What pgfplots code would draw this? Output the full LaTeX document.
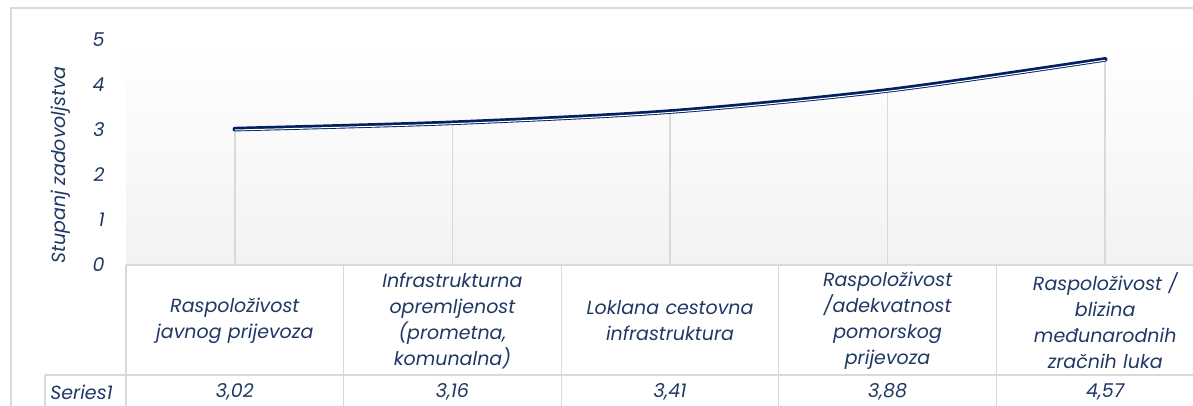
\documentclass[border=0pt]{standalone}
\usepackage{pgfplots}
\pgfplotsset{compat=1.18}
\usepackage{fontspec}
\setmainfont{Poppins}
\definecolor{txtnavy}{RGB}{32,56,100}
\definecolor{linenavy}{RGB}{0,32,96}
\definecolor{gridgray}{RGB}{217,217,217}
\definecolor{bggray}{RGB}{242,242,242}

\begin{document}
\begin{tikzpicture}[font=\fontsize{9.5}{13}\selectfont\itshape, x=1pt, y=1pt]
\useasboundingbox (0,0) rectangle (596.5,203);
\clip (0,0) rectangle (596.5,203);
% chart frame
\draw[gridgray, line width=0.8pt] (5.5,-20) rectangle (700,199);
\begin{axis}[
  at={(63pt,70.5pt)}, anchor=south west,
  width=544pt, height=112.5pt, scale only axis,
  xmin=0.5, xmax=5.5, ymin=0, ymax=5,
  clip=false,
  axis line style={draw=none},
  major tick length=0pt,
  tick style={draw=none},
  ytick={0,...,5},
  yticklabels={0,1,2,3,4,5},
  yticklabel style={anchor=east, inner sep=0pt, xshift=-10.5pt, text=txtnavy},
  xtick={1,...,5},
  xticklabels={
    {Raspoloživost\\javnog prijevoza},
    {Infrastrukturna\\opremljenost\\(prometna,\\komunalna)},
    {Loklana cestovna\\infrastruktura},
    {Raspoloživost\\/adekvatnost\\pomorskog\\prijevoza},
    {Raspoloživost /\\blizina\\međunarodnih\\zračnih luka}},
  xticklabel style={anchor=center, align=center, text width=100pt, inner sep=0pt, yshift=-28pt, text=txtnavy},
  extra x ticks={1,...,5},
  extra x tick labels={{3,02},{3,16},{3,41},{3,88},{4,57}},
  extra x tick style={xticklabel style={yshift=-35.5pt}},
  ylabel={Stupanj zadovoljstva},
  ylabel style={at={(axis description cs:-0.0597,0.444)}, anchor=center, text=txtnavy},
  axis background/.style={shade, top color=white, bottom color=bggray},
]
% data table grid
\draw[gridgray, line width=0.6pt] (axis cs:0.5,0) -- (axis cs:6,0);
\draw[gridgray, line width=0.6pt] (axis cs:0.5,0) ++(-40.5pt,-55pt) -- ++(700pt,0pt);
\draw[gridgray, line width=0.6pt] (axis cs:0.5,0) ++(-40.5pt,-55pt) -- ++(0pt,-30pt);
\pgfplotsinvokeforeach{0.5,1.5,2.5,3.5,4.5}{
  \draw[gridgray, line width=0.6pt] (axis cs:#1,0) -- ++(0pt,-80pt);
}
\node[anchor=west, inner sep=0pt, text=txtnavy] at ([shift={(-38pt,-63.5pt)}]axis cs:0.5,0) {Series1};

\addplot[ycomb, gridgray, line width=0.75pt] coordinates {(1,3.02) (2,3.16) (3,3.41) (4,3.88) (5,4.57)};
\addplot[linenavy, line width=2.3pt, smooth, line cap=round] coordinates {(1,3.02) (2,3.16) (3,3.41) (4,3.88) (5,4.57)};
\addplot[white, line width=0.5pt, smooth, yshift=-0.45pt] coordinates {(1,3.02) (2,3.16) (3,3.41) (4,3.88) (5,4.57)};
\end{axis}
\end{tikzpicture}
\end{document}
